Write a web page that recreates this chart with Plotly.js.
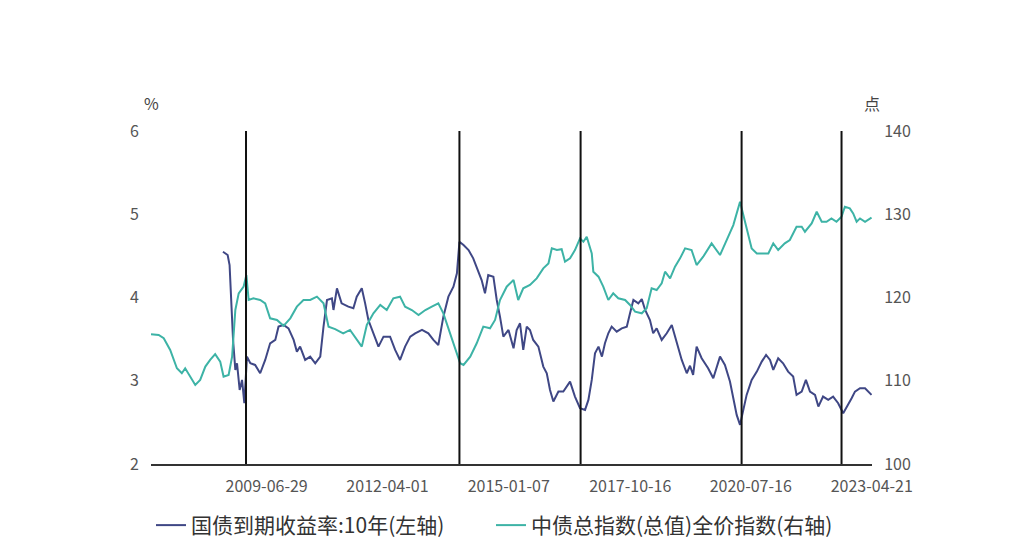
<!DOCTYPE html>
<html>
<head>
<meta charset="utf-8">
<script src="https://cdn.plot.ly/plotly-3.0.1.min.js"></script>
<style>html,body{margin:0;padding:0;background:#fff;}#chart{width:1024px;height:559px;}</style>
</head>
<body>
<div id="chart"></div>
<script>
// ---- data ----
var yieldDates = ["2008-06-30","2008-08-08","2008-08-24","2008-09-06","2008-09-22","2008-10-11","2008-10-25","2008-11-16","2008-12-06","2008-12-25",
"2009-01-16","2009-02-13","2009-03-25","2009-05-06","2009-06-17","2009-07-28","2009-09-09","2009-10-06","2009-11-17","2009-12-28",
"2010-02-09","2010-03-08","2010-04-04","2010-05-16","2010-06-27","2010-08-08","2010-09-19","2010-10-16","2010-11-14","2010-12-25",
"2011-01-07","2011-02-05","2011-03-16","2011-05-11","2011-06-22","2011-07-20","2011-08-31","2011-09-28","2011-10-25","2011-12-06",
"2012-01-17","2012-02-28","2012-04-23","2012-06-04","2012-07-15","2012-08-26","2012-10-08","2012-11-18",
"2013-01-14","2013-03-08","2013-04-19","2013-05-30","2013-07-11","2013-08-22","2013-10-03","2013-11-01","2013-11-22","2013-12-26",
"2014-02-06","2014-03-17","2014-04-15","2014-05-26","2014-06-23","2014-07-20","2014-09-01","2014-09-29","2014-10-26","2014-11-23",
"2015-01-05","2015-02-16","2015-03-14","2015-04-11","2015-05-08","2015-06-06","2015-07-03","2015-07-30","2015-09-11","2015-10-22","2015-11-20","2015-12-17",
"2016-01-14","2016-02-25","2016-04-06","2016-06-01","2016-07-12","2016-08-23","2016-10-04","2016-11-01","2016-11-29","2016-12-26",
"2017-01-24","2017-02-22","2017-03-19","2017-04-16","2017-05-14","2017-06-25","2017-08-06","2017-09-17","2017-10-14","2017-11-11","2017-12-22",
"2018-01-20","2018-02-17","2018-03-29","2018-04-25","2018-05-24","2018-07-05","2018-08-16","2018-09-27","2018-11-08","2018-12-19",
"2019-01-30","2019-02-26","2019-03-24","2019-04-22","2019-06-03","2019-07-27","2019-09-08","2019-11-03","2019-12-14",
"2020-01-25","2020-02-22","2020-03-21","2020-04-18","2020-05-15","2020-06-12","2020-07-24","2020-09-05","2020-10-16","2020-11-21","2020-12-24",
"2021-01-20","2021-03-02","2021-04-12","2021-05-24","2021-07-05","2021-08-02","2021-09-14","2021-10-19","2021-11-22",
"2022-01-03","2022-01-31","2022-03-11","2022-04-23","2022-06-03","2022-07-15","2022-08-26","2022-10-07","2022-11-04","2022-12-02",
"2023-01-13","2023-02-24","2023-04-19"];
var yield10y = [4.55,4.51,4.39,3.97,3.49,3.13,3.21,2.89,3.01,2.73,
3.29,3.21,3.19,3.09,3.25,3.45,3.49,3.65,3.67,3.63,
3.49,3.35,3.41,3.25,3.29,3.21,3.29,3.65,3.97,3.99,
3.85,4.11,3.93,3.89,3.87,4.01,4.11,3.93,3.73,3.57,
3.41,3.53,3.53,3.37,3.25,3.41,3.53,3.57,
3.61,3.57,3.49,3.43,3.77,4.01,4.13,4.29,4.67,4.63,
4.57,4.47,4.37,4.21,4.05,4.27,4.25,3.97,3.77,3.53,
3.61,3.39,3.61,3.69,3.37,3.65,3.61,3.49,3.41,3.17,3.09,2.89,
2.75,2.87,2.87,2.99,2.81,2.67,2.65,2.77,3.01,3.33,
3.41,3.29,3.45,3.57,3.65,3.59,3.63,3.65,3.81,3.97,3.93,
3.98,3.85,3.73,3.57,3.63,3.49,3.57,3.67,3.45,3.25,
3.09,3.18,3.07,3.41,3.27,3.15,3.03,3.29,3.19,
2.99,2.79,2.59,2.47,2.67,2.83,3.01,3.11,3.23,3.31,3.25,
3.13,3.27,3.21,3.11,3.05,2.83,2.87,3.01,2.87,
2.83,2.69,2.81,2.77,2.81,2.73,2.61,2.71,2.79,2.87,
2.91,2.91,2.83];

var indexDates = ["2006-11-08","2007-01-11","2007-02-22","2007-04-17","2007-06-12","2007-07-23","2007-08-20","2007-10-01","2007-11-12","2007-12-23",
"2008-02-04","2008-03-15","2008-04-26","2008-06-07","2008-07-05","2008-08-16","2008-09-14","2008-10-11","2008-11-08","2008-12-19",
"2009-01-11","2009-01-30","2009-03-11","2009-05-06","2009-06-17","2009-07-28","2009-09-23","2009-11-17",
"2010-01-12","2010-03-08","2010-05-02","2010-06-27","2010-08-22","2010-10-16","2010-11-27",
"2011-01-21","2011-03-29","2011-05-25","2011-07-20","2011-08-31","2011-10-12","2011-12-06",
"2012-02-01","2012-03-26","2012-05-20","2012-07-15","2012-08-26","2012-10-21","2012-12-16",
"2013-02-11","2013-04-06","2013-05-30","2013-07-11","2013-08-22","2013-10-17","2013-11-28","2013-12-26",
"2014-02-20","2014-04-15","2014-06-09","2014-08-04","2014-09-15","2014-10-26","2014-12-21",
"2015-02-16","2015-03-27","2015-05-08","2015-07-03","2015-08-28","2015-10-22","2015-12-04",
"2016-01-01","2016-02-12","2016-03-23","2016-04-20","2016-06-01","2016-07-12","2016-08-23","2016-09-20","2016-10-18","2016-11-29","2016-12-12",
"2017-01-24","2017-03-05","2017-04-16","2017-05-27","2017-07-08","2017-09-03","2017-10-14","2017-11-25",
"2018-01-20","2018-03-02","2018-04-12","2018-05-24","2018-07-05","2018-08-02","2018-09-13","2018-10-24","2018-12-05",
"2019-01-16","2019-03-11","2019-04-22","2019-06-16","2019-08-25","2019-11-03","2019-12-28",
"2020-02-22","2020-04-18","2020-05-15","2020-06-26","2020-07-24","2020-09-05","2020-10-29","2020-12-10",
"2021-01-20","2021-03-02","2021-04-26","2021-06-07","2021-08-02","2021-09-14","2021-10-11","2021-12-06",
"2022-01-17","2022-02-28","2022-04-09","2022-05-20","2022-07-01","2022-08-12","2022-09-09","2022-10-20","2022-11-17","2022-12-16",
"2023-01-13","2023-02-24","2023-04-19"];
var bondIndex = [115.6,115.5,115.1,113.7,111.5,110.9,111.5,110.5,109.5,110.1,
111.7,112.5,113.2,112.3,110.5,110.7,112.9,118.5,120.5,121.3,
122.7,119.7,119.9,119.7,119.3,117.5,117.3,116.6,
117.5,118.9,119.7,119.7,120.1,119.3,116.5,
116.2,115.7,116.1,114.9,114.1,116.7,118.1,
119.1,118.5,119.9,120.1,118.9,118.5,117.9,
118.5,118.9,119.3,118.1,116.3,114.1,112.1,111.9,
112.9,114.5,116.5,116.3,117.3,119.7,121.3,
122.1,119.7,121.1,121.5,122.3,123.5,124.1,
125.9,125.7,125.8,124.3,124.7,125.7,127.1,126.7,127.3,125.3,123.1,
122.5,121.3,119.7,120.5,119.9,119.7,119.1,118.3,
118.1,118.7,121.1,120.9,121.7,123.1,122.3,123.7,124.7,
125.9,125.7,123.9,124.9,126.5,125.1,126.9,
128.7,131.5,129.9,127.7,125.9,125.3,125.3,125.3,
126.5,125.7,126.5,126.9,128.5,128.5,127.9,128.9,
130.3,129.1,129.1,129.5,129.1,129.7,130.9,130.7,130.1,129.1,
129.5,129.1,129.6];

var tickDates = ["2009-06-29","2012-04-01","2015-01-07","2017-10-16","2020-07-16","2023-04-21"];
var markerDates = ["2009-01-08","2013-11-22","2016-08-28","2020-05-01","2022-08-12"];
var seriesNames = ["国债到期收益率:10年(左轴)","中债总指数(总值)全价指数(右轴)"];

// ---- chart ----
var FONT = '"Noto Sans CJK SC", "Noto Sans", sans-serif';
var traces = [
  {x: yieldDates, y: yield10y, name: seriesNames[0], type: 'scatter', mode: 'lines',
   line: {color: '#3f4785', width: 2}, yaxis: 'y'},
  {x: indexDates, y: bondIndex, name: seriesNames[1], type: 'scatter', mode: 'lines',
   line: {color: '#3db3a6', width: 2}, yaxis: 'y2'}
];

var shapes = markerDates.map(function(d){
  return {type: 'line', xref: 'x', yref: 'paper', x0: d, x1: d, y0: 0, y1: 1,
          line: {color: '#111', width: 2}};
});

var layout = {
  width: 1024, height: 559,
  paper_bgcolor: '#fff', plot_bgcolor: '#fff',
  margin: {l: 151, r: 152, t: 131, b: 95},
  font: {family: FONT, color: '#555'},
  showlegend: true,
  xaxis: {
    type: 'date', range: ['2006-11-08', '2023-04-23'],
    tickvals: tickDates, ticktext: tickDates,
    showgrid: false, zeroline: false,
    showline: true, linecolor: '#333', linewidth: 1.5,
    ticks: 'outside', ticklen: 7, tickcolor: 'rgba(0,0,0,0)',
    tickfont: {size: 16, color: '#555', family: FONT}
  },
  yaxis: {
    range: [2, 6], dtick: 1, tick0: 2,
    showgrid: false, zeroline: false, showline: false,
    ticks: 'outside', ticklen: 8, tickcolor: 'rgba(0,0,0,0)',
    tickfont: {size: 16, color: '#555', family: FONT}
  },
  yaxis2: {
    range: [100, 140], dtick: 10, tick0: 100,
    overlaying: 'y', side: 'right',
    showgrid: false, zeroline: false, showline: false,
    ticks: 'outside', ticklen: 8, tickcolor: 'rgba(0,0,0,0)',
    tickfont: {size: 16, color: '#555', family: FONT}
  },
  legend: {
    orientation: 'h', x: 0, xanchor: 'left', y: -0.123, yanchor: 'top',
    font: {size: 21, color: '#333', family: FONT},
    itemwidth: 30, tracegroupgap: 0, entrywidth: 295
  },
  shapes: shapes,
  annotations: [
    {text: '%', xref: 'paper', yref: 'paper', x: 0, y: 1.084, xanchor: 'center', yanchor: 'middle',
     showarrow: false, font: {size: 16, color: '#444', family: FONT}},
    {text: '点', xref: 'paper', yref: 'paper', x: 1, y: 1.084, xanchor: 'center', yanchor: 'middle',
     showarrow: false, font: {size: 16, color: '#444', family: FONT}}
  ]
};

Plotly.newPlot('chart', traces, layout, {staticPlot: true, displayModeBar: false});
</script>
</body>
</html>
